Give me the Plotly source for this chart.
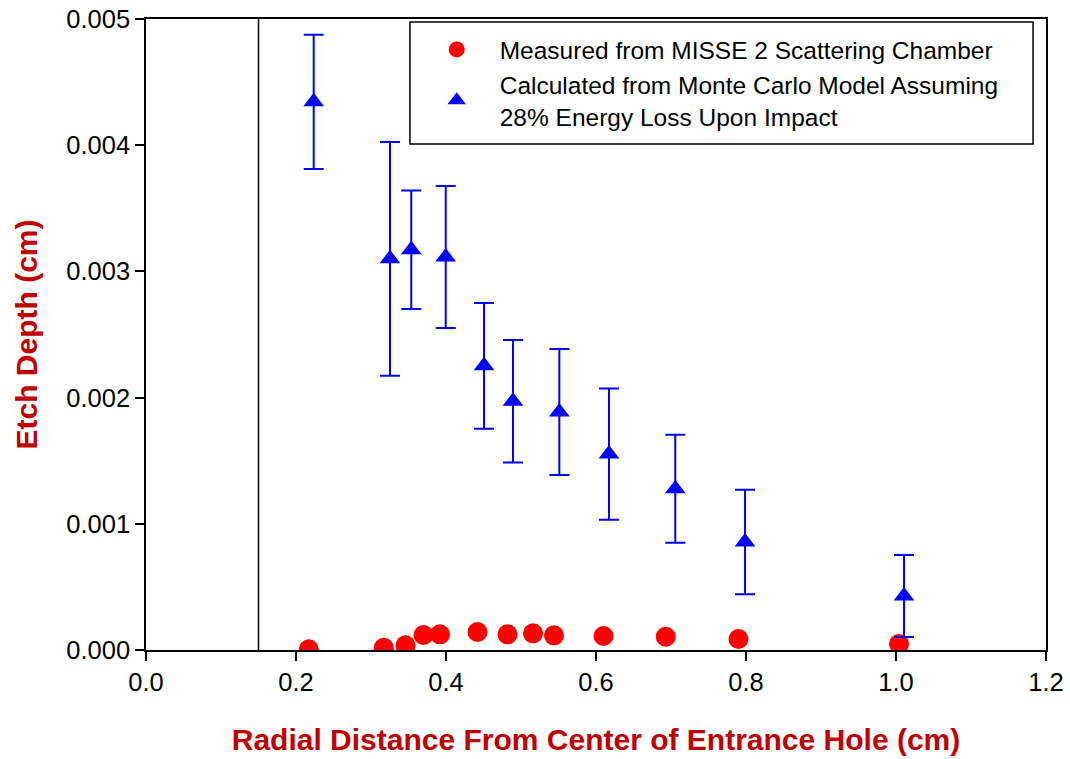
import plotly.graph_objects as go

# Measured etch depth (MISSE 2 scattering chamber)
meas_x = [0.217, 0.317, 0.346, 0.370, 0.392, 0.442, 0.482, 0.516, 0.544, 0.610, 0.693, 0.790, 1.004]
meas_y = [0.0000055, 0.000018, 0.000037, 0.000119, 0.000124, 0.000143, 0.000124, 0.000132,
          0.000116, 0.000111, 0.000105, 0.000087, 0.000048]

# Monte Carlo model (28% energy loss)
calc_x = [0.2236, 0.3253, 0.3537, 0.3996, 0.4507, 0.4893, 0.5511, 0.6173, 0.7057, 0.7987, 1.0107]
calc_y = [0.004344, 0.003100, 0.003172, 0.003114, 0.002252, 0.001971, 0.001886, 0.001553,
          0.001278, 0.000856, 0.000428]
calc_err = [0.000532, 0.000926, 0.000470, 0.000563, 0.000498, 0.000486, 0.000499, 0.000520,
            0.000428, 0.000414, 0.000325]

x_ticks = [0.0, 0.2, 0.4, 0.6, 0.8, 1.0, 1.2]
y_ticks = [0.000, 0.001, 0.002, 0.003, 0.004, 0.005]
hole_edge_x = 0.15

FONT = "Liberation Sans, Arial, sans-serif"
TITLE_RED = "#C00000"

fig = go.Figure()
fig.add_trace(go.Scatter(
    x=meas_x, y=meas_y, mode="markers",
    name="Measured from MISSE 2 Scattering Chamber",
    marker=dict(symbol="circle", size=20, color="#FF0000", line=dict(width=0)),
))
fig.add_trace(go.Scatter(
    x=calc_x, y=calc_y, mode="markers",
    name="Calculated from Monte Carlo Model Assuming<br>28% Energy Loss Upon Impact",
    marker=dict(symbol="triangle-up", size=18, color="#0000FF", line=dict(width=0)),
    error_y=dict(type="data", array=calc_err, visible=True, color="#0000FF",
                 thickness=2, width=10),
))

fig.add_shape(type="line", xref="x", yref="paper", x0=hole_edge_x, x1=hole_edge_x,
              y0=0, y1=1, line=dict(color="black", width=1.5), layer="below")

# legend frame
fig.add_shape(type="rect", xref="paper", yref="paper",
              x0=0.2933, x1=0.9856, y0=0.8019, y1=0.9952,
              line=dict(color="black", width=1.5), fillcolor="white", layer="above")

fig.update_layout(
    width=1070, height=759,
    margin=dict(l=146, r=24, t=19, b=109, autoexpand=False),
    paper_bgcolor="white", plot_bgcolor="white",
    font=dict(family=FONT, color="black", size=25),
    showlegend=True,
    legend=dict(
        x=(413.7 - 146) / 900, y=(650 - 27) / 631, xanchor="left", yanchor="top",
        bgcolor="rgba(0,0,0,0)", borderwidth=0,
        font=dict(family=FONT, size=24.5, color="black"),
        itemwidth=76, tracegroupgap=0,
    ),
    xaxis=dict(
        range=[0, 1.2], tickvals=x_ticks, tickformat=".1f",
        showgrid=False, zeroline=False,
        showline=True, linecolor="black", linewidth=1.5, mirror=True,
        ticks="outside", ticklen=9, tickwidth=1.5, tickcolor="black",
        tickfont=dict(family=FONT, size=25.5, color="black"),
        title=dict(text="<b>Radial Distance From Center of Entrance Hole (cm)</b>",
                   font=dict(family=FONT, size=30, color=TITLE_RED), standoff=34),
    ),
    yaxis=dict(
        range=[0, 0.005], tickvals=y_ticks, tickformat=".3f",
        showgrid=False, zeroline=False,
        showline=True, linecolor="black", linewidth=1.5, mirror=True,
        ticks="outside", ticklen=9, tickwidth=1.5, tickcolor="black",
        tickfont=dict(family=FONT, size=25.5, color="black"),
        title=dict(text="<b>Etch Depth (cm)</b>",
                   font=dict(family=FONT, size=30, color=TITLE_RED), standoff=20),
    ),
)

fig.write_html("out.html")
